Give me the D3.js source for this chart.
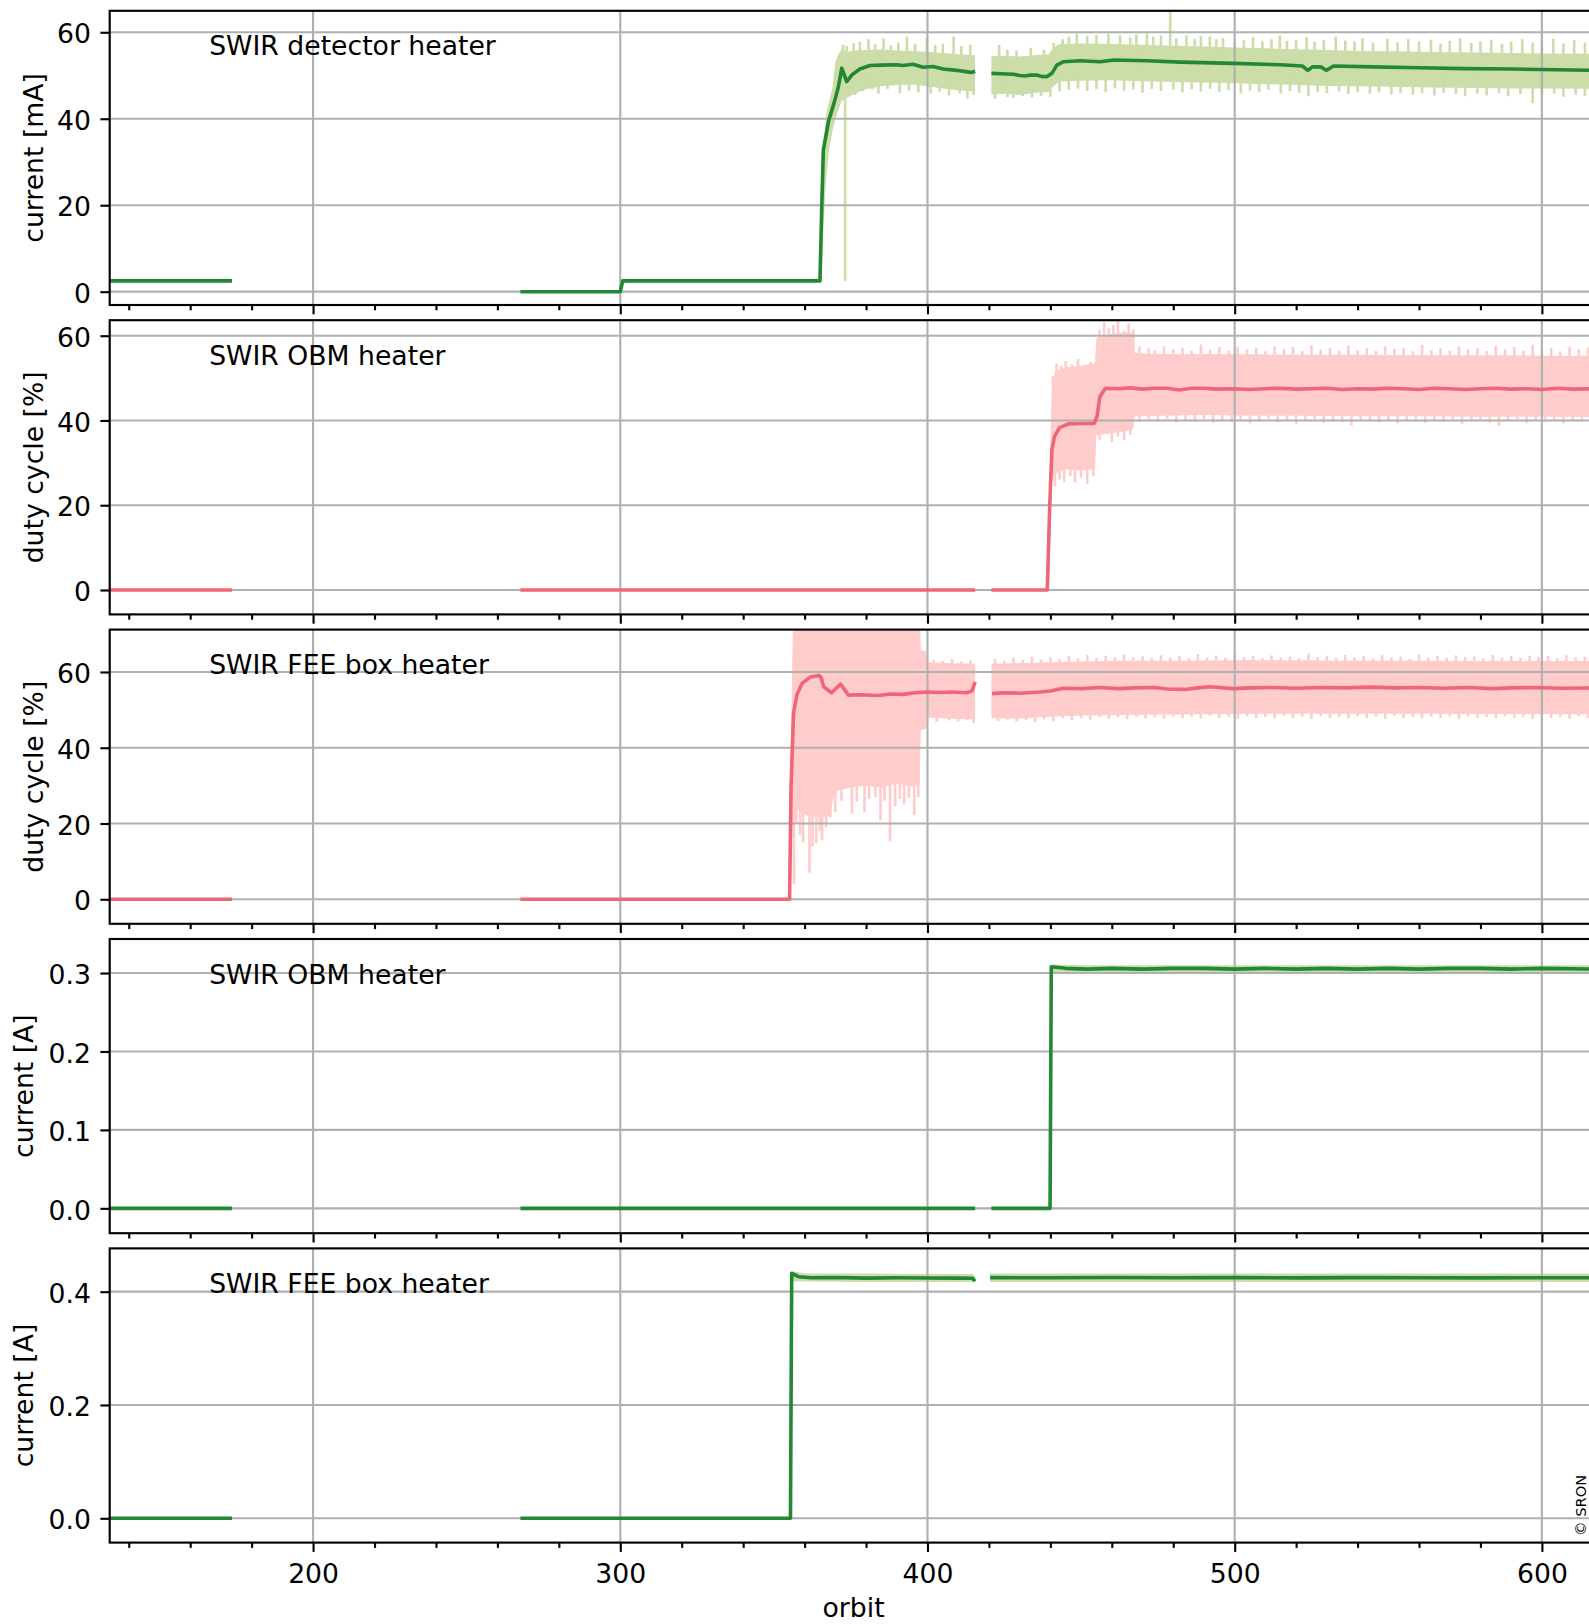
<!DOCTYPE html>
<html>
<head>
<meta charset="utf-8">
<script src="https://cdn.jsdelivr.net/npm/d3@7"></script>
<style>
  body { margin: 0; background: #fff; }
  svg { display: block; font-family: "DejaVu Sans", sans-serif; }
</style>
</head>
<body>
<svg id="chart"></svg>
<script>
// x-axis ticks (orbit)
const X_MAJOR = [200, 300, 400, 500, 600];
const X_MINOR = [140, 160, 180, 220, 240, 260, 280, 320, 340, 360, 380, 420, 440, 460, 480, 520, 540, 560, 580];

// ---- SWIR detector heater current [mA] ----
const detLineA = [[133.8, 2.5], [173.6, 2.5]];
const detLineB = [[267.5, 0], [300, 0], [300.8, 2.5], [365, 2.5], [365.6, 20], [366.1, 32.8], [367.8, 39.4], [369.7, 43.9], [371, 47.4], [372.1, 51.7], [373.7, 48.6], [375.5, 50.2], [378, 51.5], [381.3, 52.3], [385, 52.4], [389.9, 52.5], [392, 52.3], [395.3, 52.6], [398.6, 51.9], [401.8, 52.1], [405.1, 51.5], [408, 51.3], [410.5, 51.1], [412.5, 50.9], [414.3, 50.7], [415.5, 51.0]];
const detLineC = [[420.8, 50.5], [424, 50.4], [428, 50.3], [430, 50.0], [431.8, 49.9], [433.5, 50.1], [435.6, 50.1], [437, 49.8], [438.8, 49.7], [440.5, 50.5], [442.1, 52.4], [444.3, 53.2], [449.7, 53.4], [456.2, 53.2], [460.6, 53.6], [471.4, 53.4], [482.3, 53.1], [499.6, 52.8], [514.8, 52.5], [522, 52.2], [523.8, 51.2], [525.3, 52.0], [528, 52.0], [529.8, 51.2], [532.2, 52.2], [545, 52.0], [560, 51.8], [575, 51.6], [590, 51.5], [600, 51.4], [618.1, 51.2]];
// band: [orbit, min, max]
const detBandB = [[364.9, 2.5, 2.5], [365.5, 2.5, 12], [366, 13, 33], [367, 26, 41], [368, 33, 44], [369, 37, 47], [370, 40, 53], [371, 42, 55], [372, 44, 56], [374, 45, 55.5], [377, 46, 55.8], [380, 46.8, 55.9], [385, 47.5, 56], [390, 47.8, 55.8], [395, 47.9, 55.7], [400, 47.5, 55.5], [405, 47, 55.2], [410, 46.6, 54.9], [415.5, 46.3, 54.7]];
const detBandC = [[420.8, 45.6, 54.5], [425, 45.8, 54.6], [430, 45.5, 54.4], [435, 46, 54.7], [439.5, 46.2, 54.9], [441, 47.5, 56.5], [443, 48.6, 57.3], [450, 48.8, 57.4], [460, 48.9, 57.3], [470, 48.7, 57.1], [480, 48.5, 56.9], [490, 48.4, 56.7], [500, 48.2, 56.5], [510, 48.0, 56.3], [520, 47.8, 56.1], [530, 47.6, 55.9], [540, 47.5, 55.7], [550, 47.4, 55.6], [560, 47.3, 55.5], [570, 47.2, 55.4], [580, 47.1, 55.3], [590, 47.0, 55.2], [600, 47.0, 55.1], [618.1, 46.9, 55.0]];
// single-orbit extremes: [orbit, value]
const detSpikeHi = [[372.5, 57.1], [373.7, 56.8], [376, 57.5], [378, 57.8], [380.8, 58.4], [383, 57.2], [385.7, 58.6], [388, 57.0], [390.5, 57.6], [393.3, 59.0], [396, 57.3], [399.8, 58.8], [402.5, 57.1], [405, 57.4], [408.5, 59.0], [411, 56.8], [413.9, 57.1],
  [423.3, 57.1], [426, 56.0], [429, 55.8], [433.6, 56.4], [437.9, 56.0], [441.1, 57.5], [444, 58.4], [446, 59.0], [448.6, 59.7], [452, 59.2], [455, 59.4], [458.9, 59.7], [462.7, 59.3], [466, 58.8], [468, 59.5], [471.4, 59.7], [473.5, 59.0], [476, 59.3], [479, 65], [481, 58.6], [484.3, 59.3], [487, 58.5], [489, 59.1], [491.9, 59.0], [494, 58.4], [496.2, 58.7], [500, 57.8], [503, 58.2], [506, 58.9], [509, 57.9], [512, 58.4], [514.7, 59.3], [517, 58.0], [520, 58.3], [523.4, 58.9], [526, 57.8], [529, 58.2], [532.9, 59.0], [536, 58.1], [539, 57.9], [541.6, 58.6], [545, 57.6], [549.7, 58.5], [553, 57.7], [556.5, 58.4], [560, 57.9], [563.9, 58.3], [567, 57.4], [570, 58.0], [573.4, 58.6], [577, 57.5], [580, 57.9], [583.5, 58.3], [587, 57.3], [590, 57.8], [593.6, 58.4], [597, 57.6], [600, 57.9], [603.7, 58.5], [607, 57.4], [610.5, 58.2], [614, 57.6]];
const detSpikeLo = [[373.2, 2.5], [374, 45.1], [376.5, 45.5], [379, 46.4], [382, 46.8], [384, 45.8], [387, 46.9], [391, 45.9], [394, 46.5], [397, 46.1], [401, 45.8], [404, 46.3], [407, 45.4], [410.5, 45.9], [413, 44.7], [415, 45.5],
  [422, 44.6], [426, 45.0], [428, 44.8], [431, 45.2], [434, 44.9], [437, 45.3], [440, 45.1], [443, 46.3], [446, 46.7], [449, 47.0], [452, 46.4], [455, 46.9], [458, 46.2], [461, 47.0], [464, 46.5], [467, 46.8], [470, 46.0], [473, 46.9], [476, 46.4], [480, 46.7], [483, 46.1], [486, 46.8], [489, 46.3], [492, 46.9], [495, 46.2], [498, 46.6], [502, 45.9], [505, 46.5], [508, 46.2], [511, 46.7], [515, 45.8], [518, 46.4], [521, 46.0], [524, 45.2], [527, 46.2], [530, 45.9], [534, 46.3], [537, 45.7], [540, 46.2], [544, 45.8], [547, 46.1], [551, 45.6], [554, 46.0], [558, 45.5], [561, 45.9], [565, 45.4], [568, 46.0], [572, 45.7], [575, 45.2], [579, 45.8], [582, 45.4], [586, 45.9], [589, 45.2], [593, 45.7], [597, 43.6], [600, 45.5], [604, 45.8], [607, 45.1], [611, 45.6], [614, 45.3]];

// ---- SWIR OBM heater duty cycle [%] ----
const obmLineA = [[133.8, 0], [173.6, 0]];
const obmLineB = [[267.5, 0], [415.5, 0]];
const obmLineC = [[420.8, 0], [439, 0], [439.8, 20], [440.5, 33], [441.3, 36.2], [443, 38.3], [445.9, 39.2], [450, 39.3], [454.3, 39.3], [455.2, 41], [456.1, 45.6], [457.9, 47.6], [462, 47.5], [466, 47.7], [470, 47.4], [474, 47.6], [478, 47.6], [482, 47.2], [486, 47.6], [490, 47.6], [494, 47.4], [500, 47.5], [505, 47.3], [510, 47.5], [515, 47.6], [520, 47.4], [525, 47.5], [530, 47.6], [535, 47.3], [540, 47.5], [545, 47.4], [550, 47.6], [555, 47.5], [560, 47.3], [565, 47.6], [570, 47.5], [575, 47.3], [580, 47.5], [585, 47.6], [590, 47.4], [595, 47.5], [600, 47.3], [605, 47.6], [610, 47.4], [618.1, 47.5]];
const obmBandC = [[439, 0, 0], [439.5, 0, 20], [440.5, 25.6, 48.9], [441.5, 27.5, 51.5], [445, 28.5, 52.5], [450, 28.2, 53], [454.5, 28.5, 53.5], [455, 36.5, 59.5], [460, 37, 60.5], [465, 37.5, 60.8], [467, 38, 60.5], [467.5, 41, 56], [470, 41, 55.8], [480, 41.2, 55.6], [490, 41.3, 55.7], [500, 41.2, 55.6], [520, 41.1, 55.5], [540, 41.0, 55.5], [560, 41.0, 55.4], [580, 40.9, 55.4], [600, 40.9, 55.3], [618.1, 40.8, 55.3]];
const obmSpikeHi = [[440.8, 50.5], [442, 53.5], [443.5, 52.8], [445, 54.0], [447, 53.2], [449, 54.5], [451, 53.1], [453, 53.8], [456, 61.5], [457.5, 63.2], [459, 61.8], [460.5, 62.5], [462, 63.8], [464, 61.2], [465.5, 62.9], [467, 61.5], [469, 57.5], [472, 57.0], [474, 56.6], [477, 57.6], [480, 56.8], [483, 57.2], [486, 56.4], [489, 57.9], [492, 56.7], [495, 57.3], [498, 56.5], [501, 57.4], [504, 56.8], [507, 57.1], [510, 56.3], [513, 57.5], [516, 56.9], [519, 57.3], [522, 56.4], [525, 57.8], [528, 56.7], [531, 57.2], [534, 56.5], [537, 57.7], [540, 56.6], [543, 57.1], [546, 56.4], [549, 57.5], [552, 56.9], [555, 57.2], [558, 56.3], [561, 57.8], [564, 56.6], [567, 57.0], [570, 56.5], [573, 57.4], [576, 56.8], [579, 57.1], [582, 56.4], [585, 57.6], [588, 56.9], [591, 57.3], [594, 56.5], [597, 57.9], [600, 56.7], [603, 57.1], [606, 56.3], [609, 57.4], [612, 56.8], [615, 57.2]];
const obmSpikeLo = [[441.5, 24.5], [443, 26], [444.5, 25.5], [446.5, 26.8], [448, 25.3], [450, 26.5], [452, 25.1], [454, 26.9], [456, 35.5], [458, 36.8], [460, 34.9], [462, 36.2], [464, 35.3], [466, 36.6], [469, 39.6], [472, 40.2], [475, 39.8], [478, 40.4], [481, 39.5], [484, 40.1], [487, 39.7], [490, 40.3], [493, 39.4], [496, 40.0], [499, 39.6], [502, 40.2], [505, 39.3], [508, 39.9], [511, 40.4], [514, 39.5], [517, 40.0], [520, 39.2], [523, 39.9], [526, 40.3], [529, 39.4], [532, 40.1], [535, 39.6], [538, 38.8], [541, 39.9], [544, 40.2], [547, 39.5], [550, 40.0], [553, 39.3], [556, 39.9], [559, 40.3], [562, 39.4], [565, 40.0], [568, 39.6], [571, 40.2], [574, 39.1], [577, 39.8], [580, 40.1], [583, 39.5], [586, 38.7], [589, 39.9], [592, 40.3], [595, 39.4], [598, 40.0], [601, 39.6], [604, 40.1], [607, 39.3], [610, 39.9], [613, 40.2]];

// ---- SWIR FEE box heater duty cycle [%] ----
const feeLineA = [[133.8, 0], [173.6, 0]];
const feeLineB = [[267.5, 0], [355.1, 0], [355.6, 30], [356.4, 49.1], [357.5, 54], [359.2, 57], [361.9, 58.7], [364.7, 59.1], [365.4, 58.5], [366.2, 56.1], [368.8, 54.5], [371.7, 56.8], [374.3, 53.9], [378, 54.0], [384.1, 53.8], [388, 54.2], [392, 54.1], [396, 54.5], [399.8, 54.7], [404, 54.6], [408, 54.7], [412.7, 54.5], [414.5, 55], [415.5, 57.4]];
const feeLineC = [[421, 54.3], [425, 54.5], [430, 54.4], [436.7, 54.7], [440, 55.0], [444.1, 55.7], [450, 55.6], [456, 55.9], [462, 55.6], [468, 55.8], [474, 55.9], [478, 55.5], [483.8, 55.4], [488, 55.8], [492, 56.1], [499.5, 55.6], [505, 55.8], [512, 55.9], [520, 55.7], [528, 55.9], [536, 55.8], [544, 56.0], [552, 55.8], [560, 55.9], [568, 55.7], [576, 55.9], [584, 55.6], [590, 55.8], [598, 55.9], [606, 55.7], [618.1, 55.8]];
const feeBandB = [[355.1, 0, 0], [355.5, 3, 40], [356.2, 20, 72], [357, 24, 80], [361, 22, 80], [365, 21.7, 80], [368, 22, 80], [370, 28.5, 80], [375, 29.5, 80], [380, 30, 80], [385, 29.5, 80], [390, 30.5, 80], [395, 29.8, 80], [397.5, 30, 80], [397.8, 44.7, 65.8], [399.5, 45, 65.5], [400, 48, 62.6], [405, 47.8, 62.4], [410, 47.6, 62.3], [415.5, 47.5, 62.2]];
const feeBandC = [[420.8, 47.8, 62.2], [430, 47.7, 62.4], [440, 48.2, 62.6], [450, 48.5, 62.8], [460, 48.6, 62.9], [470, 48.7, 63.0], [480, 48.8, 63.0], [500, 48.9, 63.1], [520, 49.0, 63.1], [540, 49.0, 63.0], [560, 49.0, 63.0], [580, 48.9, 62.9], [600, 48.9, 62.9], [618.1, 48.8, 62.9]];
const feeSpikeHi = [[402, 63.2], [405, 62.9], [408, 63.4], [411, 62.8], [414, 63.1], [422, 63.5], [425, 63.0], [428, 63.8], [431, 63.2], [434, 64.0], [437, 63.3], [440, 63.9], [443, 63.4], [446, 64.2], [449, 63.6], [452, 64.5], [455, 63.7], [458, 64.3], [461, 63.8], [464, 64.6], [467, 63.9], [470, 64.1], [473, 63.7], [476, 64.4], [479, 63.8], [482, 64.2], [485, 63.6], [488, 64.7], [491, 63.9], [494, 64.3], [497, 63.8], [500, 64.9], [503, 63.9], [506, 64.2], [509, 63.7], [512, 64.4], [515, 63.8], [518, 64.1], [521, 63.6], [524, 64.8], [527, 63.9], [530, 64.3], [533, 63.7], [536, 64.5], [539, 63.8], [542, 64.2], [545, 63.6], [548, 64.4], [551, 63.9], [554, 64.1], [557, 63.5], [560, 64.6], [563, 63.8], [566, 64.2], [569, 63.7], [572, 64.4], [575, 63.9], [578, 64.1], [581, 63.6], [584, 64.5], [587, 63.8], [590, 64.2], [593, 63.7], [596, 64.3], [599, 63.9], [602, 64.2], [605, 63.6], [608, 64.4], [611, 63.8], [614, 64.1]];
const feeSpikeLo = [[356.5, 4], [357.3, 20], [358.5, 17], [359.5, 15], [361.6, 7], [362.6, 14], [363.8, 14.8], [365, 18], [365.7, 15.6], [367, 19], [368.4, 21.7], [370, 23], [372, 26], [375.4, 22.6], [377, 25.8], [379.5, 23], [381, 26.5], [383, 27], [384.7, 20.8], [386, 26], [387.8, 15.3], [389.5, 24.5], [391, 26.5], [392.4, 25], [394, 26.8], [395.7, 22.2], [397, 27],
  [403, 46.8], [407, 47.2], [410, 46.9], [413, 47.3], [415, 46.5], [423, 47.1], [426, 47.4], [429, 46.9], [432, 47.3], [435, 46.8], [438, 47.5], [441, 47.0], [444, 47.8], [447, 47.3], [450, 47.9], [453, 47.4], [456, 48.1], [459, 47.6], [462, 48.0], [465, 47.5], [468, 48.2], [471, 47.7], [474, 48.1], [477, 47.6], [480, 48.3], [483, 47.8], [486, 48.2], [489, 47.7], [492, 48.4], [495, 47.9], [498, 48.2], [501, 47.6], [504, 48.3], [507, 47.9], [510, 48.1], [513, 47.7], [516, 48.4], [519, 47.8], [522, 48.2], [525, 47.6], [528, 48.3], [531, 47.9], [534, 48.1], [537, 47.7], [540, 48.3], [543, 47.8], [546, 48.2], [549, 47.6], [552, 48.4], [555, 47.9], [558, 48.1], [561, 47.7], [564, 48.2], [567, 47.8], [570, 48.3], [573, 47.6], [576, 48.2], [579, 47.8], [582, 48.1], [585, 47.7], [588, 48.3], [591, 47.8], [594, 48.2], [597, 47.6], [600, 48.2], [603, 47.8], [606, 48.1], [609, 47.7], [612, 48.3], [615, 47.8]];

// ---- SWIR OBM heater current [A] ----
const obmCurA = [[133.8, 0], [173.6, 0]];
const obmCurB = [[267.5, 0], [415.5, 0]];
const obmCurC = [[420.8, 0], [439.9, 0], [440.3, 0.308], [445, 0.306], [452, 0.305], [460, 0.306], [470, 0.305], [480, 0.306], [490, 0.306], [500, 0.305], [510, 0.306], [520, 0.305], [530, 0.306], [540, 0.305], [550, 0.306], [560, 0.305], [570, 0.306], [580, 0.306], [590, 0.305], [600, 0.306], [618.1, 0.305]];
const obmCurBand = [[439.9, 0, 0], [440.2, 0, 0.31], [440.6, 0.301, 0.311], [450, 0.301, 0.310], [500, 0.301, 0.310], [618.1, 0.301, 0.310]];

// ---- SWIR FEE box heater current [A] ----
const feeCurA = [[133.8, 0], [173.6, 0]];
const feeCurB = [[267.5, 0], [355.4, 0], [355.8, 0.4325], [358, 0.4265], [362, 0.4245], [370, 0.4250], [380, 0.4240], [390, 0.4245], [400, 0.4242], [410, 0.4240], [414.8, 0.4238], [415.4, 0.418]];
const feeCurC = [[420.4, 0.4248], [440, 0.4245], [460, 0.4250], [480, 0.4246], [500, 0.4248], [520, 0.4244], [540, 0.4248], [560, 0.4246], [580, 0.4244], [600, 0.4246], [618.1, 0.4245]];
const feeCurBandB = [[355.4, 0, 0], [355.6, 0, 0.435], [356.2, 0.418, 0.436], [360, 0.418, 0.432], [380, 0.417, 0.432], [400, 0.417, 0.431], [415, 0.417, 0.431]];
const feeCurBandC = [[420.4, 0.417, 0.432], [618.1, 0.417, 0.432]];

// colours
const GREEN = "#228833";
const PALE_GREEN = "#ccddaa";
const RED = "#ee6677";
const PALE_RED = "#ffcccc";

// layout
const WIDTH = 1589;
const HEIGHT = 1624;
const PLOT_LEFT = 109.7;
const PLOT_RIGHT = 1597.5;
const PANEL_TOP = 10.8;
const PANEL_PITCH = 309.4;
const PANEL_HEIGHT = 294.2;
const FONT = 26.67;
const LW = 2.13;

const panels = [
  { key: "det", label: "current [mA]", name: "SWIR detector heater", yDomain: [-3.08, 64.97], yTicks: [0, 20, 40, 60], fmt: d3.format("d"), labelX: 42.5,
    lines: [detLineA, detLineB, detLineC], bands: [detBandB, detBandC], spikesHi: detSpikeHi, spikesLo: detSpikeLo, anchor: 51, color: GREEN, fill: PALE_GREEN },
  { key: "obm", label: "duty cycle [%]", name: "SWIR OBM heater", yDomain: [-5.76, 63.66], yTicks: [0, 20, 40, 60], fmt: d3.format("d"), labelX: 42.5,
    lines: [obmLineA, obmLineB, obmLineC], bands: [obmBandC], spikesHi: obmSpikeHi, spikesLo: obmSpikeLo, anchor: 48, color: RED, fill: PALE_RED },
  { key: "fee", label: "duty cycle [%]", name: "SWIR FEE box heater", yDomain: [-6.47, 71.19], yTicks: [0, 20, 40, 60], fmt: d3.format("d"), labelX: 42.5,
    lines: [feeLineA, feeLineB, feeLineC], bands: [feeBandB, feeBandC], spikesHi: feeSpikeHi, spikesLo: feeSpikeLo, anchor: 55, color: RED, fill: PALE_RED },
  { key: "obmcur", label: "current [A]", name: "SWIR OBM heater", yDomain: [-0.0317, 0.3434], yTicks: [0, 0.1, 0.2, 0.3], fmt: d3.format(".1f"), labelX: 33.2,
    lines: [obmCurA, obmCurB, obmCurC], bands: [obmCurBand], spikesHi: [], spikesLo: [], anchor: 0.3, color: GREEN, fill: PALE_GREEN },
  { key: "feecur", label: "current [A]", name: "SWIR FEE box heater", yDomain: [-0.0429, 0.4764], yTicks: [0, 0.2, 0.4], fmt: d3.format(".1f"), labelX: 33.2,
    lines: [feeCurA, feeCurB, feeCurC], bands: [feeCurBandB, feeCurBandC], spikesHi: [], spikesLo: [], anchor: 0.42, color: GREEN, fill: PALE_GREEN },
];

const svg = d3.select("#chart").attr("width", WIDTH).attr("height", HEIGHT);
svg.append("rect").attr("width", WIDTH).attr("height", HEIGHT).attr("fill", "#fff");

// orbit scale shared by all panels
const x = d3.scaleLinear().domain([133.8, 618.1]).range([PLOT_LEFT, PLOT_RIGHT]);

panels.forEach((p, i) => {
  const top = PANEL_TOP + i * PANEL_PITCH;
  const bottom = top + PANEL_HEIGHT;
  const y = d3.scaleLinear().domain(p.yDomain).range([bottom, top]);
  const g = svg.append("g").attr("class", `panel panel-${p.key}`);

  // clip to the axes box
  svg
    .append("clipPath")
    .attr("id", `clip-${p.key}`)
    .append("rect")
    .attr("x", PLOT_LEFT)
    .attr("y", top)
    .attr("width", PLOT_RIGHT - PLOT_LEFT)
    .attr("height", PANEL_HEIGHT);
  const plot = g.append("g").attr("clip-path", `url(#clip-${p.key})`);

  // min-max band
  const area = d3
    .area()
    .x((d) => x(d[0]))
    .y0((d) => y(d[1]))
    .y1((d) => y(d[2]));
  p.bands.forEach((band) => {
    plot.append("path").datum(band).attr("fill", p.fill).attr("d", area);
  });

  // single orbit extremes of the band
  plot
    .selectAll(".spike")
    .data(p.spikesHi.concat(p.spikesLo))
    .join("rect")
    .attr("class", "spike")
    .attr("fill", p.fill)
    .attr("x", (d) => x(d[0]) - 1.3)
    .attr("width", 2.6)
    .attr("y", (d) => Math.min(y(d[1]), y(p.anchor)))
    .attr("height", (d) => Math.abs(y(d[1]) - y(p.anchor)));

  // grid
  plot
    .selectAll(".grid-x")
    .data(X_MAJOR)
    .join("line")
    .attr("class", "grid-x")
    .attr("x1", (d) => x(d))
    .attr("x2", (d) => x(d))
    .attr("y1", top)
    .attr("y2", bottom)
    .attr("stroke", "#b0b0b0")
    .attr("stroke-width", LW);
  plot
    .selectAll(".grid-y")
    .data(p.yTicks)
    .join("line")
    .attr("class", "grid-y")
    .attr("x1", PLOT_LEFT)
    .attr("x2", PLOT_RIGHT)
    .attr("y1", (d) => y(d))
    .attr("y2", (d) => y(d))
    .attr("stroke", "#b0b0b0")
    .attr("stroke-width", LW);

  // daily mean line, one path per data segment
  const line = d3
    .line()
    .x((d) => x(d[0]))
    .y((d) => y(d[1]));
  p.lines.forEach((seg) => {
    plot
      .append("path")
      .datum(seg)
      .attr("fill", "none")
      .attr("stroke", p.color)
      .attr("stroke-width", 3.6)
      .attr("stroke-linejoin", "round")
      .attr("d", line);
  });

  // panel name
  g.append("text")
    .attr("x", 209.2)
    .attr("y", top + 44.5)
    .attr("font-size", FONT)
    .attr("fill", "#000")
    .text(p.name);

  // x ticks (labels only on the bottom panel)
  const last = i === panels.length - 1;
  g.append("g")
    .attr("class", "axis axis-x")
    .attr("transform", `translate(0, ${bottom})`)
    .call(
      d3
        .axisBottom(x)
        .tickValues(X_MAJOR)
        .tickSize(9.3)
        .tickPadding(11.9)
        .tickFormat(last ? d3.format("d") : () => "")
    );
  g.append("g")
    .attr("class", "axis axis-x-minor")
    .attr("transform", `translate(0, ${bottom})`)
    .call(d3.axisBottom(x).tickValues(X_MINOR).tickSize(5.3).tickFormat(() => ""));

  // y ticks
  const yAxis = g
    .append("g")
    .attr("class", "axis axis-y")
    .attr("transform", `translate(${PLOT_LEFT}, 0)`)
    .call(d3.axisLeft(y).tickValues(p.yTicks).tickSize(9.3).tickPadding(9.4).tickFormat(p.fmt));
  yAxis.selectAll("text").attr("dy", "0.4em");

  g.selectAll(".axis .domain").remove();
  g.selectAll(".axis line").attr("stroke-width", LW);
  g.selectAll(".axis text")
    .attr("font-size", FONT)
    .attr("font-family", "DejaVu Sans")
    .attr("fill", "#000");

  // spines
  g.append("rect")
    .attr("x", PLOT_LEFT)
    .attr("y", top)
    .attr("width", PLOT_RIGHT - PLOT_LEFT)
    .attr("height", PANEL_HEIGHT)
    .attr("fill", "none")
    .attr("stroke", "#000")
    .attr("stroke-width", LW);

  // y-axis label
  g.append("text")
    .attr("transform", `translate(${p.labelX}, ${top + PANEL_HEIGHT / 2}) rotate(-90)`)
    .attr("text-anchor", "middle")
    .attr("font-size", FONT)
    .attr("fill", "#000")
    .text(p.label);
});

// add x-axis label
svg
  .append("text")
  .attr("x", (PLOT_LEFT + PLOT_RIGHT) / 2)
  .attr("y", 1616.7)
  .attr("text-anchor", "middle")
  .attr("font-size", FONT)
  .attr("fill", "#000")
  .text("orbit");

// copyright note
svg
  .append("text")
  .attr("transform", "translate(1586, 1536) rotate(-90)")
  .attr("font-size", 14.67)
  .attr("fill", "#000")
  .text("© SRON");
</script>
</body>
</html>
